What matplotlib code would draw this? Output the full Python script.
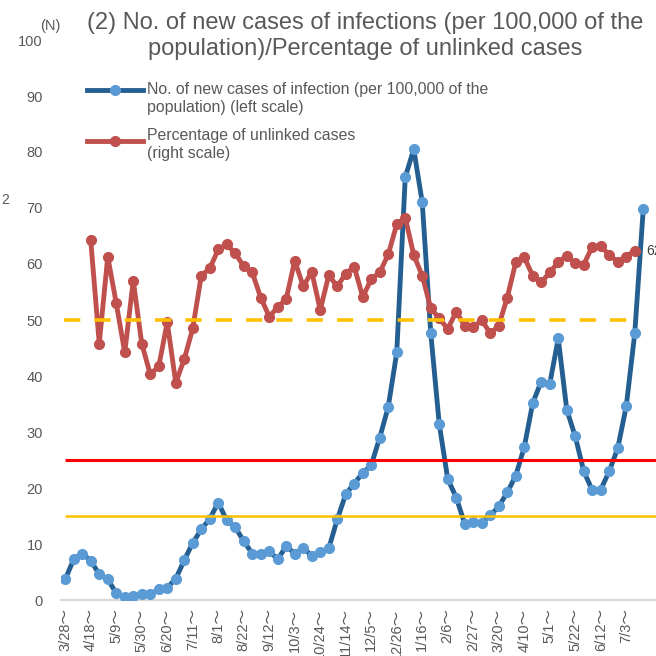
import numpy as np
import matplotlib.pyplot as plt
from matplotlib.lines import Line2D

plt.rcParams['font.family'] = ['Liberation Sans', 'Noto Sans CJK JP', 'DejaVu Sans']

# weekly categories, a label every third week
week_labels = ['3/28～', '4/18～', '5/9～', '5/30～', '6/20～', '7/11～', '8/1～', '8/22～',
               '9/12～', '10/3～', '10/24～', '11/14～', '12/5～', '12/26～', '1/16～', '2/6～',
               '2/27～', '3/20～', '4/10～', '5/1～', '5/22～', '6/12～', '7/3～']

# new cases per 100,000 (left scale), one value per week
new_cases = [3.7, 7.3, 8.3, 7.0, 4.6, 3.7, 1.2, 0.5, 0.7, 1.0,
             1.0, 1.9, 2.2, 3.8, 7.1, 10.2, 12.6, 14.5, 17.4, 14.2,
             13.0, 10.5, 8.3, 8.3, 8.7, 7.3, 9.6, 8.3, 9.3, 7.9,
             8.6, 9.2, 14.4, 18.9, 20.8, 22.7, 24.1, 29.0, 34.5, 44.2,
             75.5, 80.5, 71.0, 47.7, 31.4, 21.6, 18.3, 13.6, 13.9, 13.8,
             15.1, 16.7, 19.2, 22.2, 27.3, 35.2, 39.0, 38.6, 46.7, 34.0,
             29.2, 23.0, 19.6, 19.7, 23.0, 27.1, 34.6, 47.6, 69.8]

# percentage of unlinked cases (right scale), starts at the 4th week
unlinked_start = 3
unlinked_pct = [64.2, 45.8, 61.3, 53.0, 44.2, 57.0, 45.8, 40.3, 41.7, 49.6,
                38.8, 43.0, 48.5, 57.9, 59.2, 62.6, 63.5, 61.9, 59.6, 58.5,
                54.0, 50.6, 52.3, 53.8, 60.6, 56.0, 58.6, 51.8, 58.0, 56.0,
                58.3, 59.5, 54.1, 57.3, 58.5, 61.7, 67.1, 68.3, 61.6, 57.9,
                52.1, 50.3, 48.4, 51.5, 48.9, 48.7, 50.0, 47.6, 49.0, 54.0,
                60.3, 61.2, 57.9, 56.7, 58.5, 60.3, 61.5, 60.1, 59.9, 63.1,
                63.2, 61.6, 60.4, 61.3, 62.4]

level_red = 25
level_yellow = 15
level_pct = 50

W = 656.0
fx = lambda px: px / W
fy = lambda py: 1 - py / W

grey = '#595959'
fig = plt.figure(figsize=(6.56, 6.56), dpi=100)
ax = fig.add_axes([fx(61), fy(600), (W - 61) / W, 560 / W])

x = np.arange(len(new_cases))
xr = np.arange(unlinked_start, unlinked_start + len(unlinked_pct))

ax.set_xlim(-0.5, 69.5)
ax.set_ylim(0, 100)
ax.set_yticks(np.arange(0, 101, 10))
ax.set_xticks(np.arange(0, len(new_cases), 3))
ax.set_xticklabels(week_labels, rotation=90, va='top', ha='center')
ax.tick_params(axis='y', length=0, pad=13, labelsize=10.5, labelcolor=grey)
ax.tick_params(axis='x', length=0, pad=6, labelsize=10.5, labelcolor=grey)
for s in ['left', 'right', 'top']:
    ax.spines[s].set_visible(False)
ax.spines['bottom'].set_color('#D9D9D9')
ax.spines['bottom'].set_linewidth(1.6)

ax.plot(x, new_cases, color='#255E91', lw=3.5, marker='o', ms=7,
        mfc='#5B9BD5', mec='#5B9BD5', solid_joinstyle='round', zorder=3)

ax2 = ax.twinx()
ax2.set_ylim(0, 100)
ax2.set_xlim(-0.5, 69.5)
ax2.set_yticks([])
for s in ax2.spines.values():
    s.set_visible(False)

ax2.plot(xr, unlinked_pct, color='#C0504D', lw=3.5, marker='o', ms=7,
         mfc='#C0504D', mec='#C0504D', solid_joinstyle='round', zorder=3)
ax2.hlines(level_red, 0, 69.5, color='#FF0000', lw=2.2, zorder=4)
ax2.hlines(level_yellow, 0, 69.5, color='#FFC000', lw=1.8, zorder=4)
ax2.hlines(level_pct, -0.2, 67.3, color='#FFC000', lw=2.6,
           linestyles=(0, (4.5, 3.9)), zorder=4)
ax2.annotate(f'{unlinked_pct[-1]:.0f}', (xr[-1], unlinked_pct[-1]),
             xytext=(8, 0), textcoords='offset points', va='center',
             fontsize=10, color='#404040')

# title and axis unit
fig.text(fx(365), fy(36), '(2) No. of new cases of infections (per 100,000 of the\n'
         'population)/Percentage of unlinked cases', ha='center', va='center',
         fontsize=17, color=grey, linespacing=1.2)
fig.text(fx(40), fy(26), '(N)', fontsize=10.5, color=grey, va='center')
fig.text(fx(1), fy(200), '2', fontsize=10, color=grey, va='center')

# legend
for yy, ty, col, mcol, lab in [(90, 98.5, '#255E91', '#5B9BD5',
                                'No. of new cases of infection (per 100,000 of the\npopulation) (left scale)'),
                               (141, 144.5, '#C0504D', '#C0504D',
                                'Percentage of unlinked cases\n(right scale)')]:
    fig.add_artist(Line2D([fx(87), fx(143)], [fy(yy), fy(yy)], color=col, lw=3.5,
                          transform=fig.transFigure))
    fig.add_artist(Line2D([fx(115)], [fy(yy)], marker='o', ms=7, color=mcol,
                          transform=fig.transFigure))
    fig.text(fx(147), fy(ty), lab, va='center', fontsize=11.4, color=grey,
             linespacing=1.25)

fig.savefig('out.png', dpi=100)
